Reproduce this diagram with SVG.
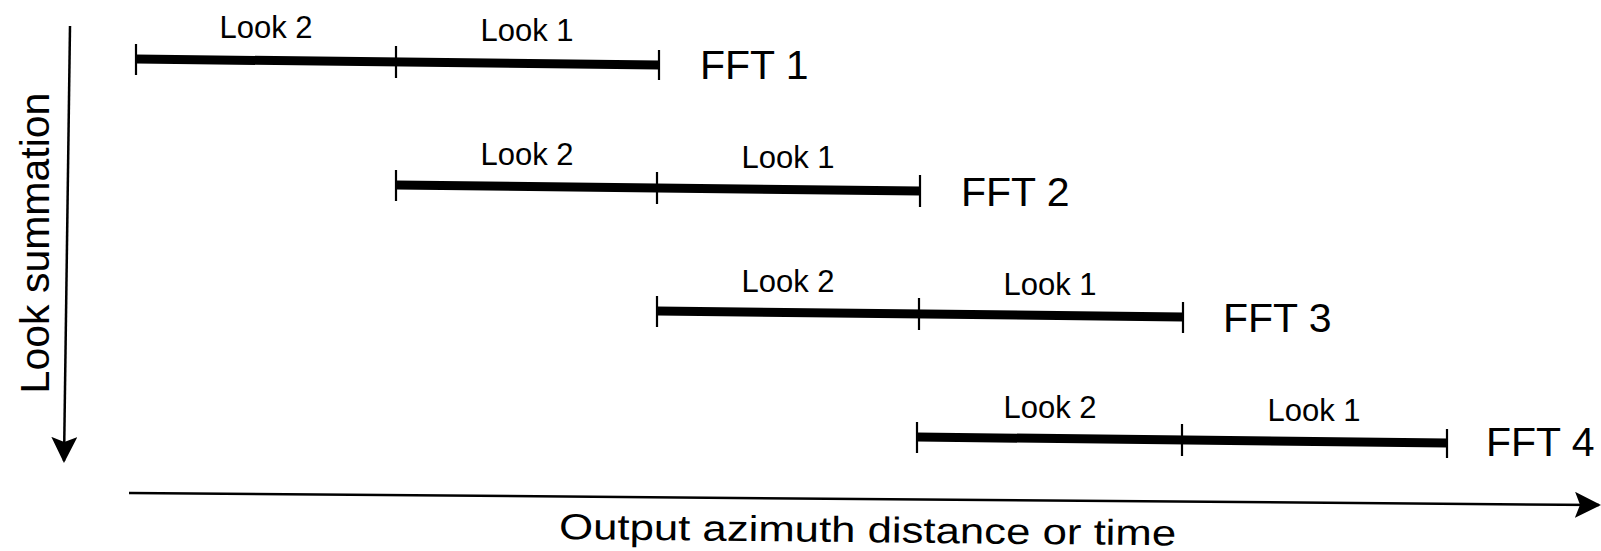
<svg xmlns="http://www.w3.org/2000/svg" width="1601" height="551" viewBox="0 0 1601 551">
<style>
.bar{stroke:#000;stroke-width:9;fill:none;stroke-linecap:butt}
.tick{stroke:#000;stroke-width:2.2;fill:none}
.axis{stroke:#000;stroke-width:2.5;fill:none}
.look{font-family:"Liberation Sans",Arial,sans-serif;font-size:31px;fill:#000;text-anchor:middle}
.fft{font-family:"Liberation Sans",Arial,sans-serif;font-size:41px;fill:#000}
.ax{font-family:"Liberation Sans",Arial,sans-serif;fill:#000}
</style>
<defs>
<marker id="arr" viewBox="0 0 26 26" refX="24" refY="13" markerWidth="26" markerHeight="26" markerUnits="userSpaceOnUse" orient="auto">
<path d="M0,0 L26,13 L0,26 L5,13 z" fill="#000"/>
</marker>
</defs>
<rect width="1601" height="551" fill="#fff"/>
<g id="connectors">
<line class="axis" x1="70" y1="26" x2="64" y2="461" marker-end="url(#arr)"/>
<line class="axis" x1="129" y1="493" x2="1599" y2="505" marker-end="url(#arr)"/>
</g>
<g id="fft1">
<line class="bar" x1="136" y1="59" x2="659" y2="65"/>
<line class="tick" x1="136" y1="44" x2="136" y2="75"/>
<line class="tick" x1="396" y1="46" x2="396" y2="78"/>
<line class="tick" x1="659" y1="50" x2="659" y2="80"/>
<text class="look" x="266" y="38">Look 2</text>
<text class="look" x="527" y="41">Look 1</text>
<text class="fft" x="700" y="79">FFT 1</text>
</g>
<g id="fft2">
<line class="bar" x1="396" y1="185" x2="920" y2="191"/>
<line class="tick" x1="396" y1="170" x2="396" y2="201"/>
<line class="tick" x1="657" y1="172" x2="657" y2="204"/>
<line class="tick" x1="920" y1="175" x2="920" y2="207"/>
<text class="look" x="527" y="165">Look 2</text>
<text class="look" x="788" y="168">Look 1</text>
<text class="fft" x="961" y="206">FFT 2</text>
</g>
<g id="fft3">
<line class="bar" x1="657" y1="311" x2="1183" y2="317"/>
<line class="tick" x1="657" y1="296" x2="657" y2="327"/>
<line class="tick" x1="919" y1="298" x2="919" y2="330"/>
<line class="tick" x1="1183" y1="302" x2="1183" y2="333"/>
<text class="look" x="788" y="292">Look 2</text>
<text class="look" x="1050" y="295">Look 1</text>
<text class="fft" x="1223" y="332">FFT 3</text>
</g>
<g id="fft4">
<line class="bar" x1="917" y1="437" x2="1447" y2="443"/>
<line class="tick" x1="917" y1="422" x2="917" y2="453"/>
<line class="tick" x1="1182" y1="424" x2="1182" y2="456"/>
<line class="tick" x1="1447" y1="429" x2="1447" y2="458"/>
<text class="look" x="1050" y="418">Look 2</text>
<text class="look" x="1314" y="421">Look 1</text>
<text class="fft" x="1486" y="456">FFT 4</text>
</g>
<g id="axis-labels">
<text class="ax" font-size="41" text-anchor="middle" transform="translate(49,243) rotate(-90)">Look summation</text>
<text class="ax" font-size="36" x="559" y="539" textLength="617" lengthAdjust="spacingAndGlyphs" transform="rotate(0.6 559 539)">Output azimuth distance or time</text>
</g>
</svg>
